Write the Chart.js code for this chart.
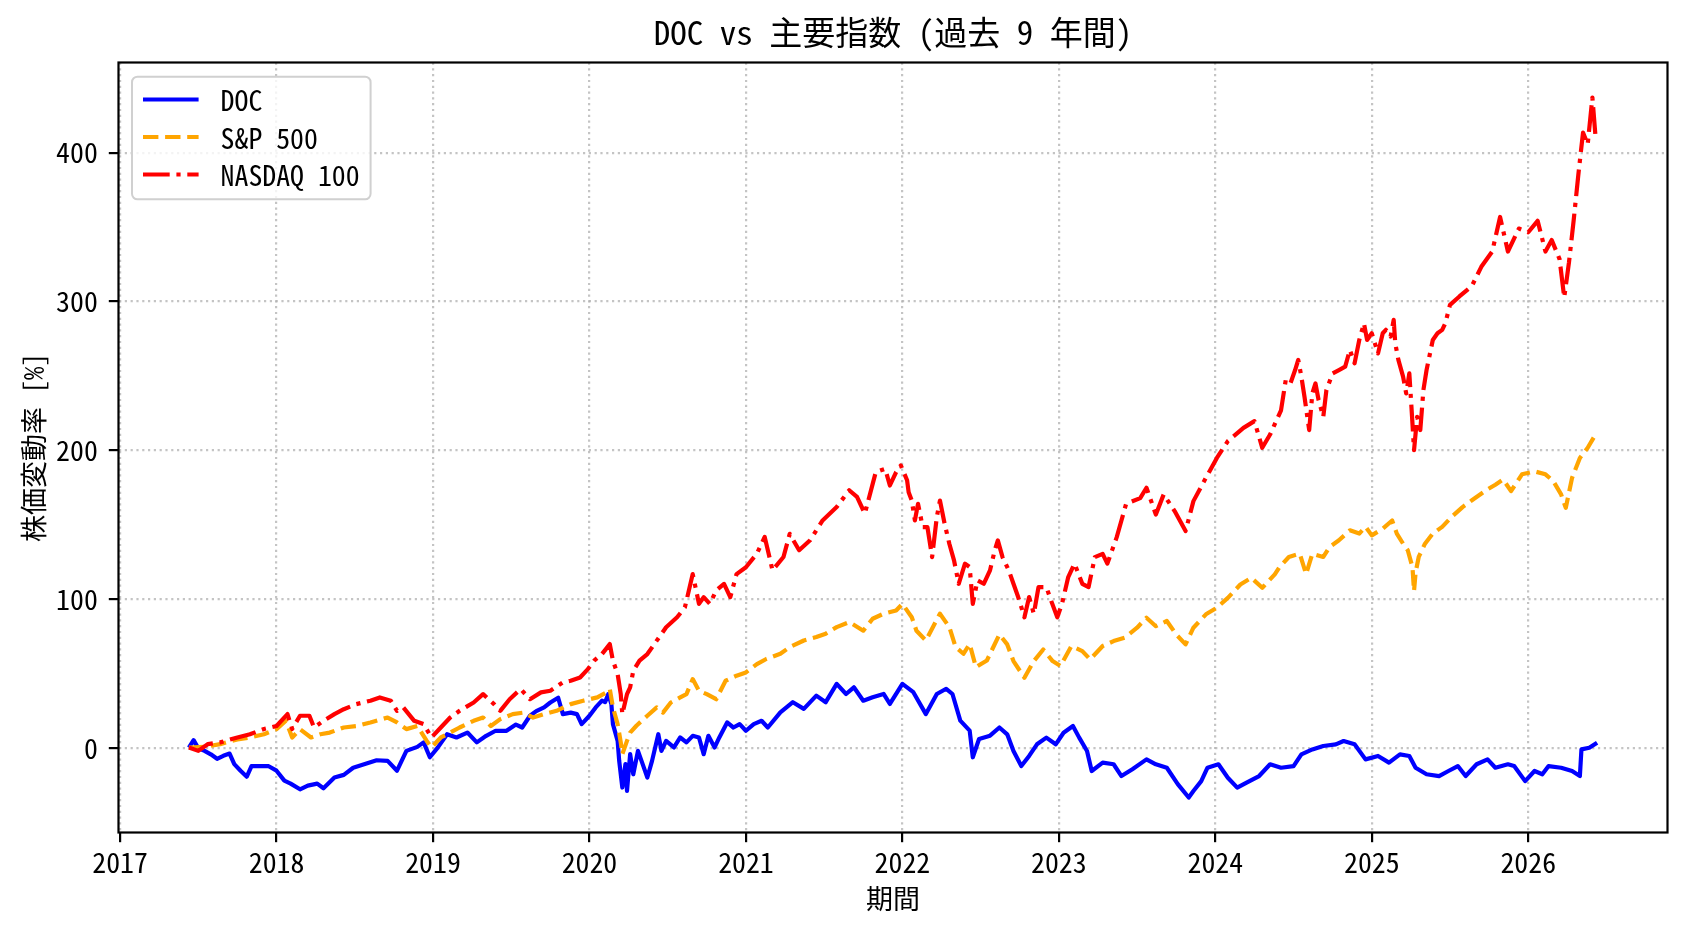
<!DOCTYPE html>
<html lang="ja">
<head>
<meta charset="UTF-8">
<title>DOC vs 主要指数 (過去 9 年間)</title>
<script src="https://cdn.jsdelivr.net/npm/chart.js"></script>
<style>
  html, body { margin: 0; padding: 0; background: #fff; }
  #wrap { width: 1688px; height: 932px; }
</style>
</head>
<body>
<div id="wrap"><canvas id="chart" width="1688" height="932"></canvas></div>
<script>
  // テキスト
  const titleText = 'DOC vs 主要指数 (過去 9 年間)';
  const xLabel = '期間';
  const yLabel = '株価変動率 [%]';
  const seriesNames = ['DOC', 'S&P 500', 'NASDAQ 100'];

  // 目盛り
  const xTickYears = [2017, 2018, 2019, 2020, 2021, 2022, 2023, 2024, 2025, 2026];
  const yTickValues = [0, 100, 200, 300, 400];

  // DOC (年, %)
  const docYears = [2017.44, 2017.47, 2017.50, 2017.54, 2017.58, 2017.62, 2017.66, 2017.70, 2017.73, 2017.77,
    2017.81, 2017.84, 2017.90, 2017.95, 2018.00, 2018.05, 2018.09, 2018.15, 2018.20, 2018.26,
    2018.30, 2018.37, 2018.43, 2018.49, 2018.56, 2018.64, 2018.71, 2018.77, 2018.83, 2018.90,
    2018.94, 2018.98, 2019.03, 2019.09, 2019.15, 2019.22, 2019.28, 2019.34, 2019.40, 2019.47,
    2019.53, 2019.57, 2019.62, 2019.66, 2019.71, 2019.75, 2019.80, 2019.83, 2019.88, 2019.92,
    2019.95, 2020.00, 2020.04, 2020.08, 2020.10, 2020.12, 2020.14, 2020.15, 2020.18, 2020.19,
    2020.21, 2020.23, 2020.24, 2020.26, 2020.28, 2020.31, 2020.34, 2020.37, 2020.40, 2020.44,
    2020.46, 2020.49, 2020.54, 2020.58, 2020.62, 2020.66, 2020.70, 2020.73, 2020.76, 2020.80,
    2020.83, 2020.88, 2020.92, 2020.96, 2021.00, 2021.05, 2021.10, 2021.14, 2021.22, 2021.30,
    2021.37, 2021.45, 2021.51, 2021.58, 2021.64, 2021.69, 2021.75, 2021.81, 2021.88, 2021.92,
    2022.00, 2022.07, 2022.15, 2022.22, 2022.28, 2022.32, 2022.37, 2022.43, 2022.45, 2022.49,
    2022.56, 2022.62, 2022.67, 2022.71, 2022.76, 2022.81, 2022.86, 2022.92, 2022.98, 2023.03,
    2023.09, 2023.13, 2023.18, 2023.21, 2023.28, 2023.35, 2023.40, 2023.47, 2023.56, 2023.62,
    2023.69, 2023.76, 2023.83, 2023.86, 2023.91, 2023.95, 2024.02, 2024.08, 2024.14, 2024.20,
    2024.28, 2024.35, 2024.42, 2024.50, 2024.55, 2024.62, 2024.69, 2024.77, 2024.82, 2024.89,
    2024.96, 2025.04, 2025.11, 2025.18, 2025.24, 2025.28, 2025.35, 2025.43, 2025.49, 2025.55,
    2025.60, 2025.67, 2025.74, 2025.79, 2025.87, 2025.91, 2025.98, 2026.04, 2026.09, 2026.13,
    2026.21, 2026.28, 2026.33, 2026.34, 2026.39, 2026.44];
  const docValues = [0.5, 5.5, 0, -1.7, -4, -7, -5, -3.5, -10.6, -15,
    -19, -12, -12, -12, -15, -21.7, -23.7, -27.5, -25, -23.7,
    -26.8, -19.6, -17.8, -13, -10.7, -8, -8.4, -15, -1.7, 1,
    4, -6, 0.5, 9.5, 7.3, 10.6, 4, 8.4, 11.8, 11.8,
    16, 14, 21.9, 25, 27.5, 30.8, 34, 23, 24, 23,
    16.3, 21.9, 27.5, 32, 31, 36.4, 29.7, 16.3, 5, -8.4,
    -26.3, -10.6, -28.6, -3.9, -17.4, -1.7, -10.6, -19.6, -8.4, 9.5,
    -1.7, 5, 0.6, 7.3, 4, 8.4, 7.3, -3.9, 8.4, 0.6,
    7.3, 17.4, 14, 16.3, 11.8, 16.3, 18.5, 14, 24.2, 31,
    26.5, 35.4, 31, 43.3, 36.5, 41, 32, 34.3, 36.5, 29.8,
    43.3, 37.7, 23, 36.5, 40, 36.5, 18.6, 11.9, -6, 6.3,
    8.5, 14, 9.4, -1.8, -11.9, -5.1, 2.7, 7.2, 2.7, 10.5,
    15, 7.2, -1.8, -15.2, -9.6, -10.7, -18.6, -14, -7.4, -10.7,
    -13, -24, -33, -28.6, -22, -13, -10.7, -19.7, -26.4, -23,
    -18.6, -10.7, -13, -11.9, -4, -0.7, 1.6, 2.7, 4.9, 2.7,
    -7.4, -5.1, -9.6, -4, -5.1, -13, -17.4, -18.6, -15.2, -11.9,
    -18.6, -10.7, -7.4, -13, -10.7, -11.9, -22, -15.2, -17.4, -11.9,
    -13, -15.2, -18.6, -0.7, 0.4, 3.8];

  // S&P 500 (年, %)
  const spxYears = [2017.44, 2017.54, 2017.64, 2017.75, 2017.83, 2017.92, 2018.00, 2018.06, 2018.10, 2018.15,
    2018.22, 2018.28, 2018.34, 2018.43, 2018.51, 2018.60, 2018.71, 2018.77, 2018.83, 2018.90,
    2018.96, 2018.99, 2019.05, 2019.11, 2019.17, 2019.26, 2019.32, 2019.37, 2019.43, 2019.51,
    2019.58, 2019.64, 2019.71, 2019.79, 2019.88, 2019.96, 2020.05, 2020.11, 2020.13, 2020.15,
    2020.18, 2020.20, 2020.21, 2020.24, 2020.26, 2020.30, 2020.37, 2020.43, 2020.47, 2020.52,
    2020.58, 2020.62, 2020.66, 2020.70, 2020.75, 2020.81, 2020.87, 2020.94, 2021.00, 2021.07,
    2021.13, 2021.22, 2021.28, 2021.37, 2021.45, 2021.51, 2021.58, 2021.66, 2021.75, 2021.81,
    2021.88, 2021.96, 2022.00, 2022.06, 2022.09, 2022.15, 2022.24, 2022.30, 2022.34, 2022.39,
    2022.43, 2022.47, 2022.54, 2022.62, 2022.67, 2022.71, 2022.78, 2022.84, 2022.90, 2022.96,
    2023.01, 2023.08, 2023.15, 2023.20, 2023.28, 2023.35, 2023.42, 2023.50, 2023.56, 2023.62,
    2023.69, 2023.75, 2023.81, 2023.86, 2023.94, 2024.01, 2024.08, 2024.16, 2024.23, 2024.30,
    2024.38, 2024.41, 2024.47, 2024.54, 2024.58, 2024.62, 2024.69, 2024.73, 2024.79, 2024.86,
    2024.92, 2024.96, 2025.00, 2025.07, 2025.13, 2025.16, 2025.20, 2025.23, 2025.26, 2025.27,
    2025.28, 2025.30, 2025.34, 2025.39, 2025.45, 2025.51, 2025.58, 2025.64, 2025.73, 2025.79,
    2025.84, 2025.89, 2025.96, 2026.04, 2026.11, 2026.16, 2026.21, 2026.24, 2026.28, 2026.33,
    2026.38, 2026.43];
  const spxValues = [0.5, 1, 2.8, 6, 7.3, 9.5, 12.9, 18.5, 7.3, 12.9,
    7.3, 9.5, 10.6, 14, 15, 17.4, 20.7, 17.4, 12.9, 15,
    5, 0.6, 7.3, 10.6, 14, 18.5, 20.7, 15, 19.6, 23,
    24, 20.7, 23, 25.2, 29.7, 32, 34.2, 37.6, 39.8, 27.5,
    16.3, 4, -3.9, 5, 10.6, 15.2, 21.9, 27.5, 24, 30.8,
    34.2, 36.4, 46.5, 38.7, 36.4, 33, 45.4, 48.8, 51, 56.6,
    60, 63.5, 68, 72.4, 74.7, 77, 81.4, 84.8, 79, 87,
    90.4, 92.6, 97, 88, 79, 72.4, 90.4, 81.4, 68, 63.5,
    70, 54.5, 59, 76.5, 69.8, 58.6, 47.4, 58.6, 66.4, 58.6,
    55.3, 68.7, 65.3, 59.7, 68.7, 72, 74.3, 81, 87.7, 82,
    85.5, 76.5, 69.8, 81, 90, 94.4, 101, 110, 114.5, 107.8,
    116.8, 121.7, 128.5, 130.7, 117, 130.7, 128.5, 135.2, 139.7, 146.4,
    144.2, 148.7, 143, 147.5, 153, 144.2, 137.4, 133, 121.7, 105.6,
    118, 128.5, 137.4, 144.2, 148.7, 155.4, 162, 166.6, 173.3, 177,
    180.5, 172.7, 184, 186, 184, 179.4, 170.5, 161.5, 181.6, 195,
    201.8, 210.7];

  // NASDAQ 100 (年, %)
  const ndxYears = [2017.44, 2017.50, 2017.56, 2017.64, 2017.75, 2017.83, 2017.92, 2018.00, 2018.07, 2018.10,
    2018.15, 2018.21, 2018.24, 2018.30, 2018.37, 2018.43, 2018.51, 2018.60, 2018.66, 2018.73,
    2018.77, 2018.81, 2018.88, 2018.94, 2018.99, 2019.05, 2019.11, 2019.17, 2019.26, 2019.32,
    2019.39, 2019.43, 2019.49, 2019.56, 2019.62, 2019.69, 2019.75, 2019.83, 2019.88, 2019.94,
    2019.99, 2020.03, 2020.08, 2020.13, 2020.15, 2020.18, 2020.20, 2020.21, 2020.24, 2020.26,
    2020.28, 2020.32, 2020.37, 2020.43, 2020.49, 2020.56, 2020.61, 2020.66, 2020.70, 2020.73,
    2020.77, 2020.81, 2020.86, 2020.90, 2020.94, 2021.00, 2021.07, 2021.12, 2021.17, 2021.24,
    2021.28, 2021.34, 2021.41, 2021.49, 2021.58, 2021.66, 2021.71, 2021.76, 2021.83, 2021.89,
    2021.92, 2021.96, 2021.99, 2022.03, 2022.04, 2022.06, 2022.08, 2022.10, 2022.13, 2022.16,
    2022.19, 2022.22, 2022.24, 2022.27, 2022.30, 2022.33, 2022.36, 2022.40, 2022.43, 2022.45,
    2022.48, 2022.52, 2022.56, 2022.59, 2022.61, 2022.64, 2022.68, 2022.71, 2022.74, 2022.78,
    2022.81, 2022.84, 2022.87, 2022.92, 2022.95, 2022.99, 2023.02, 2023.06, 2023.10, 2023.15,
    2023.19, 2023.23, 2023.28, 2023.31, 2023.34, 2023.37, 2023.40, 2023.43, 2023.52, 2023.56,
    2023.62, 2023.67, 2023.74, 2023.81, 2023.86, 2023.94, 2024.01, 2024.08, 2024.18, 2024.25,
    2024.30, 2024.35, 2024.42, 2024.45, 2024.48, 2024.51, 2024.53, 2024.55, 2024.57, 2024.60,
    2024.62, 2024.64, 2024.66, 2024.69, 2024.71, 2024.75, 2024.79, 2024.83, 2024.86, 2024.89,
    2024.92, 2024.95, 2024.97, 2025.00, 2025.04, 2025.07, 2025.09, 2025.12, 2025.14, 2025.15,
    2025.17, 2025.20, 2025.22, 2025.24, 2025.26, 2025.27, 2025.29, 2025.31, 2025.33, 2025.35,
    2025.39, 2025.42, 2025.45, 2025.47, 2025.50, 2025.56, 2025.64, 2025.70, 2025.77, 2025.82,
    2025.87, 2025.94, 2026.00, 2026.06, 2026.11, 2026.15, 2026.20, 2026.23, 2026.26, 2026.29,
    2026.32, 2026.35, 2026.38, 2026.41, 2026.43];
  const ndxValues = [0.5, -1.7, 2.8, 4, 7.3, 9.5, 13, 15, 23, 13,
    21.9, 21.9, 14, 18.5, 23, 26.3, 29.7, 32, 34.2, 32,
    25.2, 27.5, 18.5, 16.3, 7.3, 14, 20.7, 25.2, 30.8, 36.4,
    29.7, 25.2, 33, 39.8, 33, 37.6, 38.7, 44.3, 45.4, 47.6,
    53.2, 58.9, 63.3, 70, 58.9, 49.9, 36.4, 23, 36.4, 40.9,
    52, 58.9, 63.3, 72.3, 81.3, 88, 94.7, 117, 97, 101.5,
    97, 106, 110.4, 101.5, 117, 121.6, 130.7, 142, 119.5, 128.5,
    144, 133, 139.7, 153, 162, 173.3, 168.8, 157.6, 185.5, 187.7,
    176.5, 185.5, 190, 180, 172, 166.4, 153, 164.2, 148.5, 148.5,
    128.4, 155.3, 166.4, 150.8, 137.4, 126.2, 110.5, 124, 121.7, 97,
    112.8, 110.5, 119.5, 132.9, 139.6, 128.4, 119.5, 110.5, 101.6, 88,
    101.6, 90.4, 108.3, 108.3, 99.3, 88, 97, 115, 124, 110.5,
    108.3, 128.4, 130.6, 124, 132.9, 141.8, 153, 164.2, 168, 175,
    157, 170.5, 159.3, 145.9, 166, 181.7, 195, 206.3, 215.2, 219.7,
    201.8, 210.7, 227, 247.3, 245, 254, 260.8, 249.6, 236, 213.7,
    238.3, 245, 233.9, 222.6, 240.6, 251.8, 254, 256.3, 267.5, 258.5,
    274.2, 285.4, 274.2, 278.7, 265.2, 278.7, 281, 276.5, 287.7, 272,
    260.8, 249.6, 238.3, 251.8, 218.2, 200.2, 222.6, 213.7, 240.6, 254,
    274.2, 278.7, 281, 285.4, 297.8, 303.4, 310.5, 323.3, 333.6, 356.8,
    333.6, 349, 346.5, 354.2, 333.6, 341.3, 328.5, 302.8, 326, 354.2,
    385, 413.4, 405.7, 437, 410.8];

  const FONT = "'Noto Sans Mono CJK JP', 'Noto Sans CJK JP', sans-serif";
  const GRID = 'rgba(176,176,176,0.75)';

  const toPoints = (xs, ys) => xs.map((x, i) => ({ x: x, y: ys[i] }));

  // 軸範囲 (データ範囲 + 5% の余白)
  const allX = docYears.concat(spxYears, ndxYears);
  const allY = docValues.concat(spxValues, ndxValues);
  const xLo = Math.min(...allX), xHi = Math.max(...allX);
  const yLo = Math.min(...allY), yHi = Math.max(...allY);
  const xPad = (xHi - xLo) * 0.05, yPad = (yHi - yLo) * 0.05;

  // タイトル・軸ラベル・凡例・枠を描く
  const decor = {
    id: 'decor',
    afterDatasetsDraw(chart) {
      const { ctx, chartArea: a } = chart;
      ctx.save();
      ctx.strokeStyle = '#000';
      ctx.lineWidth = 2.2;
      ctx.strokeRect(a.left, a.top, a.right - a.left, a.bottom - a.top);
      ctx.restore();
    },
    afterDraw(chart) {
      const { ctx, chartArea: a } = chart;
      const cx = (a.left + a.right) / 2;
      ctx.save();
      ctx.fillStyle = '#000';

      ctx.font = '33px ' + FONT;
      ctx.textAlign = 'center';
      ctx.textBaseline = 'alphabetic';
      ctx.fillText(titleText, cx, 45);

      ctx.font = '27px ' + FONT;
      ctx.textBaseline = 'middle';
      ctx.fillText(xLabel, cx, 898.5);

      ctx.save();
      ctx.translate(34, (a.top + a.bottom) / 2);
      ctx.rotate(-Math.PI / 2);
      ctx.fillText(yLabel, 0, 0);
      ctx.restore();

      // 凡例
      const sets = chart.data.datasets;
      ctx.font = '27.8px ' + FONT;
      const boxL = a.left + 13.5, boxT = a.top + 14.2, boxB = a.top + 136.8;
      const lineX0 = boxL + 11, lineX1 = lineX0 + 55.6, textX = lineX1 + 22;
      const rows = [boxT + 22.8, boxT + 60.3, boxT + 97.8];
      let maxW = 0;
      sets.forEach(ds => { maxW = Math.max(maxW, ctx.measureText(ds.label).width); });
      const boxR = textX + maxW + 11;
      const r = 5.5;
      ctx.beginPath();
      ctx.moveTo(boxL + r, boxT);
      ctx.arcTo(boxR, boxT, boxR, boxB, r);
      ctx.arcTo(boxR, boxB, boxL, boxB, r);
      ctx.arcTo(boxL, boxB, boxL, boxT, r);
      ctx.arcTo(boxL, boxT, boxR, boxT, r);
      ctx.closePath();
      ctx.fillStyle = 'rgba(255,255,255,0.8)';
      ctx.fill();
      ctx.strokeStyle = '#d0d0d0';
      ctx.lineWidth = 2;
      ctx.stroke();

      sets.forEach((ds, i) => {
        ctx.beginPath();
        ctx.setLineDash(ds.borderDash || []);
        ctx.lineCap = 'butt';
        ctx.strokeStyle = ds.borderColor;
        ctx.lineWidth = ds.borderWidth;
        ctx.moveTo(lineX0, rows[i]);
        ctx.lineTo(lineX1, rows[i]);
        ctx.stroke();
        ctx.setLineDash([]);
        ctx.fillStyle = '#000';
        ctx.textAlign = 'left';
        ctx.textBaseline = 'middle';
        ctx.fillText(ds.label, textX, rows[i] + 1);
      });
      ctx.restore();
    }
  };

  const lineStyle = { borderWidth: 4.2, pointRadius: 0, tension: 0, borderCapStyle: 'butt', borderJoinStyle: 'round', fill: false };

  new Chart(document.getElementById('chart'), {
    type: 'line',
    data: {
      datasets: [
        Object.assign({ label: seriesNames[0], data: toPoints(docYears, docValues), borderColor: '#0000ff', borderDash: [], order: 3 }, lineStyle),
        Object.assign({ label: seriesNames[1], data: toPoints(spxYears, spxValues), borderColor: '#ffa500', borderDash: [15.4, 6.7], order: 2 }, lineStyle),
        Object.assign({ label: seriesNames[2], data: toPoints(ndxYears, ndxValues), borderColor: '#ff0000', borderDash: [26.7, 6.7, 4.2, 6.7], order: 1 }, lineStyle)
      ]
    },
    options: {
      responsive: false,
      animation: false,
      devicePixelRatio: 1,
      layout: { padding: { left: 0, top: 62.5, right: 20.5, bottom: 0 } },
      plugins: { legend: { display: false }, title: { display: false }, tooltip: { enabled: false } },
      scales: {
        x: {
          type: 'linear',
          min: xLo - xPad,
          max: xHi + xPad,
          afterBuildTicks: s => { s.ticks = xTickYears.map(v => ({ value: v })); },
          afterFit: s => { s.height = 99.5; },
          ticks: { callback: v => String(v), color: '#000', font: { family: FONT, size: 27.8, lineHeight: 1 }, padding: 6, maxRotation: 0, autoSkip: false },
          grid: { color: GRID, lineWidth: 2.2, tickColor: '#000', tickWidth: 2.2, tickLength: 9.7 },
          border: { display: false, dash: [2.2, 3.6] }
        },
        y: {
          type: 'linear',
          min: yLo - yPad,
          max: yHi + yPad,
          afterBuildTicks: s => { s.ticks = yTickValues.map(v => ({ value: v })); },
          afterFit: s => { s.width = 118.5; },
          ticks: { callback: v => String(v), color: '#000', font: { family: FONT, size: 27.8, lineHeight: 1 }, padding: 11 },
          grid: { color: GRID, lineWidth: 2.2, tickColor: '#000', tickWidth: 2.2, tickLength: 9.7 },
          border: { display: false, dash: [2.2, 3.6] }
        }
      }
    },
    plugins: [decor]
  });
</script>
</body>
</html>
